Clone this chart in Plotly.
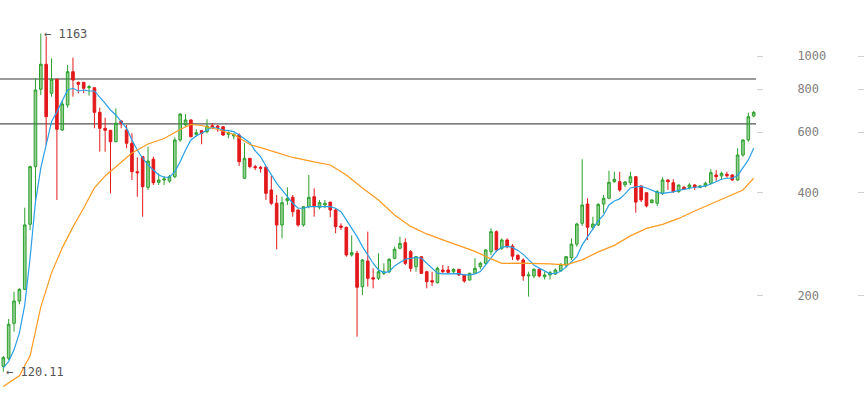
import math
import plotly.graph_objects as go

# ---- data (weekly candles) ----
opens = [124.5,131.4,166.2,193,208.8,323.2,476,799.6,946,778.6,855,608.6,719.8,900,838,838,808.4,808.4,685,615.5,
         607.4,562.5,646.5,608.6,556.6,459.9,508.7,414.2,499.9,428.3,435,432.1,444.7,569.1,629.3,650.9,591.1,605.6,601.6,626.5,
         625,622.2,591.1,584.5,588.4,440,503.2,475.8,473.8,473.8,406.8,372.1,321.7,378.6,387.3,355.6,321.7,363.7,388.9,362.2,
         367.9,375,355.6,319.5,316.7,263,266,212.6,252.6,225.7,224.8,232.5,235,257.2,275,285.6,268.8,243.1,260,235,
         221.3,218.3,237.7,237.7,235,238.8,229.9,222.3,232.5,243.1,248.6,268.8,307.5,275,290.8,279.3,262.4,254.3,228.4,228.4,
         238.8,227.3,229.9,231.4,236.5,245.9,258.2,282.8,325.3,370.3,316.7,321.7,370.3,384.7,430,430,421.5,427.1,444.7,417.8,
         399.5,373.6,372.1,397.8,435,427.1,402.2,414.2,414.2,420.6,414.2,417.8,425.6,449.9,446.8,452.2,449.9,435,514.5,569.1,
         668.6]
highs = [133.6,171.1,205.5,210.2,361.2,479,861,1163,1139,984.7,860,739.4,941.5,988.6,841.8,840,823.1,811,707,660.9,
         607.4,703.9,650.9,629.3,595.2,506.7,508.7,544,508.7,455,446.8,449.9,579.4,680.6,677.3,654,611.4,608.6,654,636.6,
         629,622.2,601.6,595.2,595.2,556.6,504,481.5,478,478,446.8,393.4,388.9,414.2,393.4,357,363.7,449.9,411.4,380.4,
         380.4,375,359.7,325.3,318,300,270.6,256,307.5,240.4,266,248.6,257.2,278,297.4,294.1,271.9,261.3,260,236.5,
         235,243.1,245.9,244.3,240.4,238.8,229.9,233.5,257.2,251.4,273.2,314.6,310,294,294,282.8,264,257.2,235,240.4,
         240.4,235,236.5,240.4,248.6,261.3,294.1,326.6,499.9,384.7,340,372,393.4,463,459.9,459.9,432,459.9,446.8,420.6,
         399.5,382,406.8,443,437,437,422,418,425.6,423,420.6,430,467.4,465.6,459.9,459.9,452.2,538.1,571.7,683.8,
         691.6]
lows = [120.11,129.9,157.1,188.9,207.9,311,376,769.7,550,760.9,380.4,604.5,707,760.9,778.6,778.6,766.2,615.5,526,526,
        397.8,560.3,615.5,538.1,435,388.9,340,406.8,420.6,420.6,420.6,427.1,440,562.5,622.2,579.4,581.7,552.9,595.2,611.4,
        601.6,584.5,575.6,571.7,478,437.9,470.6,465,456.9,380.4,367.9,273.2,294.1,367.9,340,318,318,359.7,340,357.3,
        360,338.6,304.2,311,260,260,151.9,201.1,212.6,210.2,222.3,229.9,232.5,255.5,273.2,245.9,235,235,231.4,210.2,
        213.5,217,232.5,232.5,232.5,228.4,218.3,221.3,231.4,238.8,245.9,263,268,272,275,254.3,252.6,221.3,198.8,224.8,
        226,223,223,229.9,235,241.5,254.3,278,319.5,290.8,311,319.5,347.8,382.3,427.1,402.2,415,420.6,349.2,375,
        362,372,365.5,393.4,406.8,399.5,399.5,406.8,408.6,406.8,411.4,414.2,423,432.7,435,441.8,432.7,432.7,508.7,562.5,
        663]
closes = [132,165.1,193.1,208.8,321.7,475.8,796,946,665.4,855,611.4,724.7,900,851,827,805,813.8,685,615.5,607.4,
          562.5,636.6,636.6,556.6,459.9,456.9,415.9,494.2,427.1,435,437.9,444.7,569.1,677.3,650.9,581.7,597.5,595.2,625.2,619.8,
          619,588.4,597.5,591.1,491.8,503.2,475.8,472.6,470.6,397.8,372.1,321.7,373.6,384.7,351.7,321.7,363.7,387.3,363.7,373.6,
          372,355.6,318,316.7,263,267.1,211.7,254.3,224.8,223.8,235,235,255.5,273.2,284.4,248.6,240.4,260,232.5,219.8,
          219.3,240.4,235,234,238.8,229.9,220.8,232.5,240.4,248.6,271.9,307.5,271.9,290.8,278,260.9,255.5,228.4,229.9,238.8,
          228.4,229.9,233.5,237.7,247,260,282.8,323.7,367.9,316.7,323.7,369.5,384.7,428.3,437,406.8,429.2,444.7,375,380.4,
          365.5,380.4,402.2,435,430,402.2,420.6,408.6,420.6,414.2,417.8,425.6,456.9,444.7,455,447.4,435,514.5,569.1,665.4,
          685]

# short moving average (blue), one value per candle
ma_short = [123.2,128.6,139.1,155.9,188.1,257.8,375.5,471.6,550.3,643.5,688.2,744.3,796,805.2,790.7,796,790.7,790.7,761,727.9,
            696,673.1,643.5,615.6,569.1,532.2,503.4,481.2,465.3,450,443.1,443.1,460.1,492,532.2,569.1,584.6,595.2,608.6,619.8,
            615.6,608.6,605.9,601.8,588.6,571.7,558.9,528.7,508.8,478,450,425.5,406.9,389.1,372.1,359.9,359.9,363.8,363.8,365.5,
            365.5,363.8,359.9,351.8,332.7,314.7,297.5,278.2,263.1,248.8,237.9,233.6,235.2,244.4,250.1,255.6,257,258.7,257.3,248.8,
            239,232.7,231.6,231.6,232,232,230.1,230.1,231.6,235.2,246,258.7,270.3,276.7,278.6,276.7,271.2,264,254.4,246,
            240.7,235.6,231.6,232.3,235.6,242.8,251,260.1,281.4,296.3,313.2,330.5,344.1,368,378,383.1,396.1,412.4,415.2,416.6,
            412.4,405.6,400.2,397.5,398.8,401.5,405.6,408.3,412.4,414.4,415.2,418,423.6,430.8,437.2,440.2,440.2,448.5,471.6,497.7,
            538.3]

# long moving average (orange), sampled at these candle indices
ma_long_idx = [0,3,5,6,7,8,9,11,13,15,17,19,21,24,27,30,33,35,37,40,43,46,50,54,58,61,64,67,70,73,76,79,82,85,88,91,93,
               96,99,102,105,108,111,114,117,120,123,126,129,132,135,138,140]
ma_long = [108.7,116.8,133.6,159.1,185.6,208,233.2,275.8,317.5,360.6,412.4,447,476.4,521.6,554,574.9,610.7,631.6,627.3,610.7,
           590.6,552.2,528.7,506.1,491,481.2,450,412.4,380.5,344.1,318.6,302.9,291,279.5,269.4,256.1,248.5,
           248.8,248.8,247.6,246,254.4,268.5,280.5,298.9,314.3,322.9,336.1,353.4,370.5,388.3,406.9,440.2]

levels = [857, 634]
level_colors = ["#9a9a9a", "#555555"]
level_widths = [2, 1.4]

tick_vals = [200, 400, 600, 800, 1000]
tick_text = ["200", "400", "600", "800", "1000"]

hi_idx, lo_idx = 7, 0
hi_val, lo_val = 1163, 120.11

# ---- figure ----
x = list(range(len(closes)))
fig = go.Figure()

fig.add_trace(go.Candlestick(
    x=x, open=opens, high=highs, low=lows, close=closes,
    increasing=dict(line=dict(color="#2ca02c", width=1), fillcolor="rgba(44,160,44,0.5)"),
    decreasing=dict(line=dict(color="#e3191c", width=1), fillcolor="#e3191c"),
    whiskerwidth=0, showlegend=False, hoverinfo="skip"))

fig.add_trace(go.Scatter(x=x, y=ma_short, mode="lines",
                         line=dict(color="#2a9fe6", width=1.2), showlegend=False, hoverinfo="skip"))
# drawn on the overlaying twin axis (same range) so that its tick marks are rendered too
fig.add_trace(go.Scatter(x=ma_long_idx, y=ma_long, mode="lines", yaxis="y2",
                         line=dict(color="#ff9a22", width=1.2), showlegend=False, hoverinfo="skip"))

plot_w = 756
dom_end = plot_w / 864
for lv, col, w in zip(levels, level_colors, level_widths):
    fig.add_shape(type="line", xref="paper", yref="y", x0=0, x1=dom_end, y0=lv, y1=lv,
                  line=dict(color=col, width=w), layer="below")

mono = "DejaVu Sans Mono, monospace"
# annotation positions on a log axis are given in log10 units
fig.add_annotation(x=hi_idx, y=math.log10(hi_val), xref="x", yref="y", text="← " + str(hi_val),
                   showarrow=False, xanchor="left", yanchor="middle", xshift=1,
                   font=dict(family=mono, size=12, color="#555555"))
fig.add_annotation(x=lo_idx, y=math.log10(lo_val), xref="x", yref="y", text="← " + str(lo_val),
                   showarrow=False, xanchor="left", yanchor="middle", xshift=1,
                   font=dict(family=mono, size=12, color="#555555"))

yr = [2.01458, 3.16327]
fig.update_layout(
    width=864, height=394, autosize=False,
    margin=dict(l=0, r=0, t=0, b=0),
    paper_bgcolor="white", plot_bgcolor="white",
    hovermode=False,
    xaxis=dict(domain=[0, dom_end], range=[-0.616, 140.43], showgrid=False, zeroline=False,
               showticklabels=False, ticks="", showline=False, rangeslider=dict(visible=False), fixedrange=True),
    yaxis=dict(type="log", range=yr, side="right", anchor="x", showgrid=False, zeroline=False,
               tickvals=tick_vals, ticktext=tick_text, ticks="outside", ticklen=6, tickcolor="#d0d0d0",
               tickfont=dict(family=mono, size=12, color="#808080"), ticklabelstandoff=32, showline=False),
    yaxis2=dict(type="log", range=yr, overlaying="y", side="right", anchor="free", position=1.0,
                showgrid=False, zeroline=False, tickvals=tick_vals, ticks="inside", ticklen=6,
                tickcolor="#d0d0d0", showticklabels=False, showline=False),
)

fig.write_html("out.html", config={"displayModeBar": False, "staticPlot": True},
               post_script="document.body.style.margin='0';document.body.style.overflow='hidden';")
